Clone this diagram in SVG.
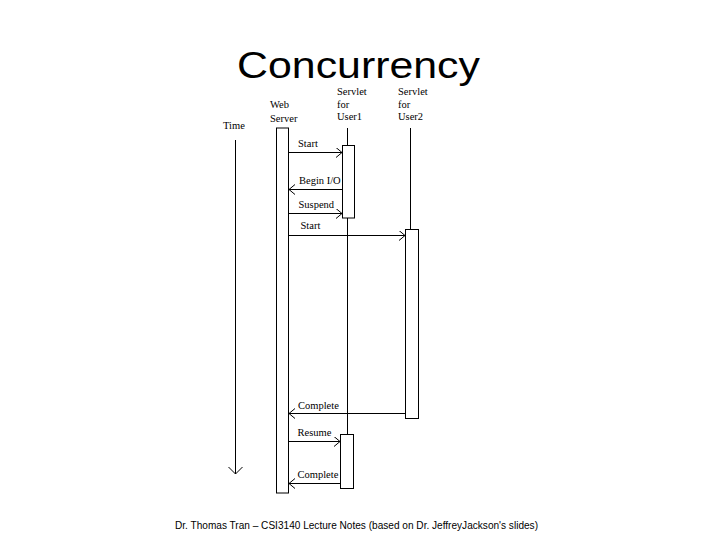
<svg xmlns="http://www.w3.org/2000/svg" width="720" height="540" viewBox="0 0 720 540">
<style>
.lbl{font-family:"Liberation Serif","Times New Roman",serif;font-size:10.5px;fill:#000}
.ln{stroke:#000;stroke-width:1;fill:none}
.box{stroke:#000;stroke-width:1;fill:#fff}
.msg{stroke:#000;stroke-width:1;fill:none;marker-end:url(#open)}
</style>
<defs>
<marker id="open" markerUnits="userSpaceOnUse" markerWidth="10" markerHeight="12" refX="6" refY="5" orient="auto">
<path d="M0,0 L6,5 L0,10" fill="none" stroke="#000" stroke-width="1"/>
</marker>
<marker id="timeHead" markerUnits="userSpaceOnUse" markerWidth="18" markerHeight="18" refX="8" refY="8" orient="auto">
<path d="M1,1 L8,8 L1,15" fill="none" stroke="#000" stroke-width="1"/>
</marker>
</defs>
<rect width="720" height="540" fill="#fff"/>
<text x="237" y="77.5" font-family="Liberation Sans, Arial, sans-serif" font-size="37" textLength="243" lengthAdjust="spacingAndGlyphs">Concurrency</text>

<g id="time">
<text class="lbl" x="223" y="129">Time</text>
<line class="ln" x1="235.5" y1="140" x2="235.5" y2="474" marker-end="url(#timeHead)"/>
</g>

<g id="webserver">
<text class="lbl" x="270" y="108">Web</text>
<text class="lbl" x="270" y="122">Server</text>
<rect class="box" x="276.5" y="128" width="12" height="365"/>
</g>

<g id="servlet1">
<text class="lbl" x="337" y="95">Servlet</text>
<text class="lbl" x="337" y="107.5">for</text>
<text class="lbl" x="337" y="120">User1</text>
<line class="ln" x1="347.5" y1="128" x2="347.5" y2="434"/>
<rect class="box" x="342.5" y="145.5" width="12" height="72.5"/>
<rect class="box" x="340.5" y="434.5" width="13" height="54"/>
</g>

<g id="servlet2">
<text class="lbl" x="398" y="95">Servlet</text>
<text class="lbl" x="398" y="107.5">for</text>
<text class="lbl" x="398" y="120">User2</text>
<line class="ln" x1="410.5" y1="128" x2="410.5" y2="229"/>
<rect class="box" x="405.5" y="229.5" width="13" height="189"/>
</g>

<g id="connectors">
<line class="msg" x1="289" y1="152.5" x2="342" y2="152.5"/>
<text class="lbl" x="298" y="147">Start</text>
<line class="msg" x1="342" y1="189.5" x2="289" y2="189.5"/>
<text class="lbl" x="299" y="184">Begin I/O</text>
<line class="msg" x1="289" y1="213.5" x2="342" y2="213.5"/>
<text class="lbl" x="298.5" y="208">Suspend</text>
<line class="msg" x1="289" y1="235.5" x2="405" y2="235.5"/>
<text class="lbl" x="300.5" y="228.5">Start</text>
<line class="msg" x1="405" y1="413.5" x2="289" y2="413.5"/>
<text class="lbl" x="298" y="409">Complete</text>
<line class="msg" x1="289" y1="441.5" x2="340" y2="441.5"/>
<text class="lbl" x="297.5" y="435.5">Resume</text>
<line class="msg" x1="340" y1="483.5" x2="289" y2="483.5"/>
<text class="lbl" x="297.5" y="478">Complete</text>
</g>

<text x="175" y="529" font-family="Liberation Sans, Arial, sans-serif" font-size="10.5" textLength="363" lengthAdjust="spacingAndGlyphs">Dr. Thomas Tran – CSI3140 Lecture Notes (based on Dr. JeffreyJackson's slides)</text>
</svg>
